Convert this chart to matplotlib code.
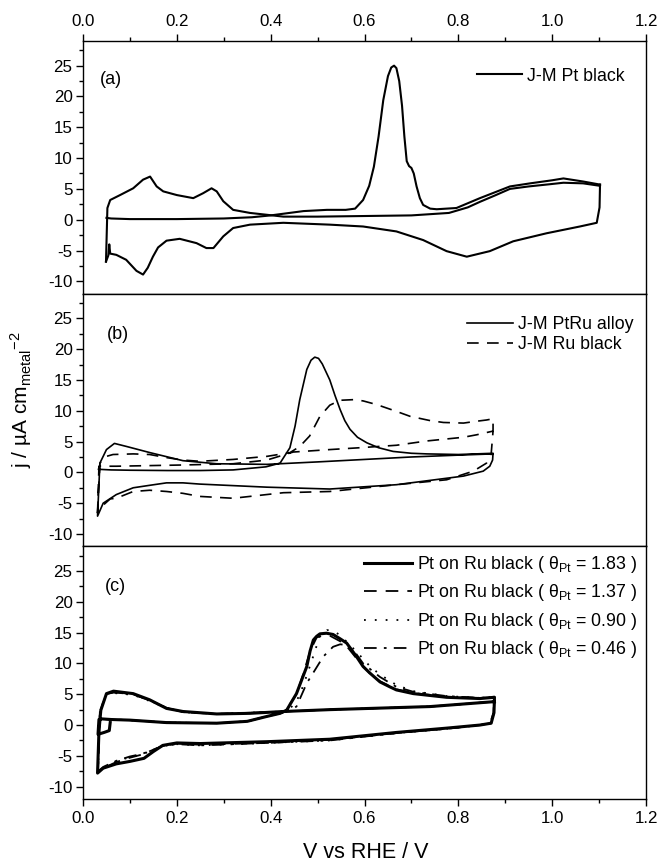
import matplotlib
matplotlib.use("Agg")
import matplotlib.pyplot as plt
from matplotlib.ticker import MultipleLocator

plt.rcParams['font.family'] = ['Liberation Sans', 'DejaVu Sans']
plt.rcParams['mathtext.default'] = 'regular'
plt.rcParams['axes.unicode_minus'] = False

# ---------------- Panel (a): J-M Pt black ----------------
a_co_x = [0.050, 0.060, 0.100, 0.200, 0.300, 0.360, 0.400, 0.430, 0.470, 0.520, 0.560, 0.580,
          0.597, 0.610, 0.620, 0.630, 0.640, 0.650, 0.657, 0.663, 0.668, 0.674, 0.680, 0.685,
          0.690, 0.695, 0.700, 0.705, 0.711, 0.718, 0.725, 0.740, 0.754, 0.796, 0.846, 0.910,
          0.953, 1.000, 1.024, 1.066, 1.102]
a_co_y = [0.3, 0.2, 0.1, 0.1, 0.2, 0.4, 0.7, 1.0, 1.4, 1.6, 1.6, 1.8,
          3.2, 5.5, 8.6, 13.5, 19.4, 23.3, 24.7, 25.0, 24.6, 22.5, 18.5, 13.5,
          9.5, 8.7, 8.4, 7.5, 5.4, 3.5, 2.4, 1.8, 1.7, 1.9, 3.5, 5.4,
          5.9, 6.4, 6.7, 6.2, 5.7]
a_cat_x = [1.102, 1.101, 1.095, 1.059, 0.988, 0.917, 0.867, 0.818, 0.775, 0.725, 0.668, 0.597,
           0.526, 0.427, 0.356, 0.320, 0.299, 0.278, 0.263, 0.242, 0.206, 0.178, 0.160, 0.149,
           0.138, 0.128, 0.114, 0.092, 0.071, 0.058, 0.056, 0.054, 0.049]
a_cat_y = [5.7, 2.0, -0.5, -1.1, -2.2, -3.5, -5.1, -6.0, -5.1, -3.3, -1.9, -1.1,
           -0.8, -0.5, -0.8, -1.35, -2.7, -4.6, -4.6, -3.8, -3.1, -3.4, -4.5, -6.0,
           -7.8, -8.9, -8.3, -6.5, -5.7, -5.5, -4.0, -5.8, -6.8]
a_h_x = [0.049, 0.052, 0.058, 0.079, 0.107, 0.128, 0.143, 0.157, 0.171, 0.200, 0.235, 0.256,
         0.274, 0.285, 0.299, 0.320, 0.356, 0.392, 0.427, 0.500, 0.600, 0.700, 0.780, 0.820,
         0.846, 0.880, 0.910, 0.950, 1.000, 1.024, 1.066, 1.102]
a_h_y = [-6.8, 1.9, 3.2, 4.0, 5.1, 6.5, 7.0, 5.4, 4.6, 4.0, 3.5, 4.3,
         5.1, 4.6, 3.0, 1.6, 1.1, 0.8, 0.5, 0.5, 0.6, 0.7, 1.1, 2.0,
         2.9, 4.0, 5.0, 5.4, 5.8, 6.0, 5.9, 5.5]

# ---------------- Panel (b): PtRu alloy (solid), Ru black (dashed) ----------------
b_alloy_x = [0.033, 0.060, 0.100, 0.180, 0.250, 0.320, 0.390, 0.420, 0.441, 0.452, 0.462, 0.477,
             0.486, 0.494, 0.502, 0.510, 0.518, 0.526, 0.537, 0.548, 0.558, 0.569, 0.585, 0.605,
             0.630, 0.661, 0.700, 0.733, 0.800, 0.874, 0.873, 0.867, 0.853, 0.811, 0.668, 0.526,
             0.392, 0.249, 0.213, 0.178, 0.142, 0.107, 0.071, 0.043, 0.031, 0.036, 0.050, 0.067,
             0.093, 0.143, 0.213, 0.285, 0.392, 0.500, 0.600, 0.700, 0.800, 0.874]
b_alloy_y = [0.5, 0.4, 0.35, 0.3, 0.3, 0.4, 0.9, 1.5, 4.0, 7.5, 11.8, 16.7,
             18.2, 18.7, 18.5, 17.6, 16.3, 15.0, 12.5, 10.2, 8.4, 7.0, 5.7, 4.8,
             4.0, 3.4, 3.1, 3.0, 2.9, 3.1, 2.0, 1.0, 0.2, -0.6, -2.0, -2.7,
             -2.4, -1.9, -1.7, -1.7, -2.1, -2.5, -3.6, -5.0, -7.1, 1.5, 3.7, 4.7,
             4.2, 3.2, 1.9, 1.4, 1.3, 1.7, 2.1, 2.5, 2.8, 3.0]
b_ru_x = [0.031, 0.036, 0.050, 0.064, 0.107, 0.142, 0.178, 0.213, 0.249, 0.320, 0.392, 0.441,
          0.462, 0.483, 0.505, 0.526, 0.548, 0.576, 0.597, 0.626, 0.668, 0.697, 0.740, 0.768,
          0.811, 0.839, 0.860, 0.874, 0.874, 0.870, 0.860, 0.832, 0.775, 0.668, 0.526, 0.427,
          0.320, 0.249, 0.213, 0.178, 0.142, 0.107, 0.071, 0.058, 0.036, 0.031, 0.034, 0.071,
          0.142, 0.213, 0.320, 0.392, 0.448, 0.526, 0.590, 0.668, 0.733, 0.811, 0.839, 0.874]
b_ru_y = [-6.6, 1.5, 2.6, 2.9, 3.0, 2.9, 2.4, 2.0, 1.8, 2.1, 2.6, 3.2,
          4.2, 5.9, 9.1, 10.9, 11.7, 11.8, 11.6, 11.0, 9.9, 9.1, 8.4, 8.1,
          8.0, 8.3, 8.5, 8.7, 6.7, 3.0, 1.5, 0.2, -1.2, -2.0, -3.1, -3.3,
          -4.2, -3.9, -3.4, -3.1, -2.9, -3.1, -4.2, -4.3, -5.8, -6.6, 1.0, 1.0,
          1.1, 1.2, 1.4, 2.0, 3.3, 3.7, 4.0, 4.4, 5.1, 5.7, 6.1, 6.7]

# ---------------- Panel (c): Pt on Ru black, four coverages ----------------
c_183_x = [0.058, 0.056, 0.045, 0.032, 0.034, 0.040, 0.060, 0.100, 0.178, 0.285, 0.350, 0.392,
           0.420, 0.434, 0.455, 0.466, 0.477, 0.484, 0.491, 0.498, 0.505, 0.519, 0.533, 0.548,
           0.562, 0.583, 0.597, 0.612, 0.633, 0.654, 0.668, 0.704, 0.775, 0.846, 0.877,
           0.876, 0.870, 0.846, 0.775, 0.668, 0.526, 0.392, 0.250, 0.200, 0.170, 0.150, 0.130,
           0.100, 0.071, 0.043, 0.031,
           0.034, 0.038, 0.050, 0.065, 0.107, 0.142, 0.178, 0.213, 0.285, 0.356, 0.427, 0.526,
           0.740, 0.877]
c_183_y = [0.4, -0.9, -1.2, -1.5, 0.9, 1.0, 0.9, 0.8, 0.4, 0.3, 0.6, 1.4,
           1.9, 2.4, 5.1, 7.3, 9.5, 12.0, 13.8, 14.4, 14.8, 14.9, 14.7, 14.0,
           13.3, 11.1, 9.5, 8.4, 7.0, 6.2, 5.7, 5.1, 4.5, 4.3, 4.5,
           2.0, 0.3, 0.0, -0.5, -1.2, -2.3, -2.7, -3.0, -2.9, -3.3, -4.3, -5.4,
           -5.9, -6.3, -7.0, -7.8,
           -1.0, 2.4, 5.1, 5.5, 5.1, 4.1, 2.7, 2.2, 1.8, 1.9, 2.2, 2.5,
           3.0, 3.8]
c_137_x = [0.034, 0.040, 0.060, 0.100, 0.178, 0.285, 0.350, 0.392, 0.420, 0.440, 0.455, 0.470,
           0.484, 0.498, 0.512, 0.526, 0.548, 0.562, 0.583, 0.612, 0.633, 0.668, 0.704, 0.775,
           0.846, 0.876, 0.875, 0.868, 0.846, 0.775, 0.668, 0.526, 0.392, 0.250, 0.200, 0.170,
           0.150, 0.125, 0.100, 0.071, 0.043, 0.032, 0.036, 0.050, 0.065, 0.107, 0.142, 0.178,
           0.213, 0.285, 0.427, 0.526, 0.740, 0.876]
c_137_y = [0.9, 1.0, 0.9, 0.8, 0.4, 0.3, 0.6, 1.4, 1.9, 3.3, 5.0, 8.4,
           12.0, 14.2, 14.6, 14.5, 13.6, 12.8, 10.8, 8.3, 7.1, 5.8, 5.2, 4.6,
           4.4, 4.5, 2.0, 0.4, 0.0, -0.6, -1.3, -2.4, -2.9, -3.2, -3.0, -3.4,
           -4.0, -4.8, -5.3, -6.0, -7.0, -7.6, 2.2, 5.0, 5.3, 5.0, 4.0, 2.8,
           2.1, 1.8, 2.2, 2.5, 3.0, 3.8]
c_090_x = [0.034, 0.040, 0.060, 0.100, 0.178, 0.285, 0.350, 0.392, 0.420, 0.440, 0.455, 0.470,
           0.490, 0.505, 0.520, 0.530, 0.548, 0.583, 0.612, 0.633, 0.668, 0.704, 0.775, 0.846,
           0.877, 0.876, 0.870, 0.846, 0.775, 0.668, 0.526, 0.392, 0.250, 0.200, 0.170, 0.150,
           0.125, 0.100, 0.071, 0.043, 0.032, 0.036, 0.050, 0.065, 0.107, 0.142, 0.178, 0.213,
           0.285, 0.427, 0.526, 0.740, 0.877]
c_090_y = [0.9, 1.0, 0.9, 0.8, 0.4, 0.3, 0.6, 1.4, 1.9, 2.6, 3.8, 6.5,
           11.0, 14.5, 15.4, 15.4, 14.6, 11.9, 9.5, 8.2, 6.5, 5.5, 4.7, 4.4,
           4.6, 2.0, 0.3, 0.0, -0.6, -1.3, -2.5, -2.9, -3.3, -3.1, -3.4, -4.0,
           -4.8, -5.2, -5.9, -6.9, -7.6, 2.2, 4.9, 5.2, 4.9, 3.9, 2.8, 2.1,
           1.8, 2.2, 2.5, 3.0, 3.8]
c_046_x = [0.034, 0.040, 0.060, 0.100, 0.178, 0.285, 0.350, 0.392, 0.420, 0.440, 0.455, 0.477,
           0.495, 0.512, 0.533, 0.548, 0.562, 0.580, 0.597, 0.633, 0.668, 0.704, 0.775, 0.846,
           0.877, 0.876, 0.870, 0.846, 0.775, 0.668, 0.526, 0.392, 0.250, 0.200, 0.170, 0.150,
           0.125, 0.100, 0.071, 0.043, 0.032, 0.036, 0.050, 0.065, 0.107, 0.142, 0.178, 0.213,
           0.285, 0.427, 0.526, 0.740, 0.877]
c_046_y = [0.9, 1.0, 0.9, 0.8, 0.4, 0.3, 0.6, 1.4, 1.9, 2.4, 3.0, 6.8,
           9.0, 11.1, 12.7, 13.1, 13.0, 11.8, 10.0, 7.8, 6.2, 5.4, 4.7, 4.4,
           4.6, 2.0, 0.3, 0.0, -0.6, -1.3, -2.5, -2.9, -3.3, -3.1, -3.4, -4.0,
           -4.7, -5.1, -5.8, -6.8, -7.5, 2.3, 5.0, 5.3, 5.0, 4.0, 2.8, 2.1,
           1.8, 2.2, 2.5, 3.0, 3.8]

legend_a = ["J-M Pt black"]
legend_b = ["J-M PtRu alloy", "J-M Ru black"]
coverages = ["1.83", "1.37", "0.90", "0.46"]
panel_tags = ["(a)", "(b)", "(c)"]
x_ticks = [0.0, 0.2, 0.4, 0.6, 0.8, 1.0, 1.2]
y_ticks = [-10, -5, 0, 5, 10, 15, 20, 25]

W, H = 659, 864
fig, axes = plt.subplots(3, 1, figsize=(W / 100, H / 100), dpi=100, sharex=True)
fig.subplots_adjust(left=83 / W, right=646 / W, top=1 - 41 / H, bottom=1 - 799 / H, hspace=0)

FS = 12.2
LFS = 12.8
for ax in axes:
    ax.set_xlim(0.0, 1.2)
    ax.set_ylim(-12, 29)
    ax.set_yticks(y_ticks)
    ax.yaxis.set_minor_locator(MultipleLocator(2.5))
    ax.xaxis.set_minor_locator(MultipleLocator(0.1))
    ax.set_xticks(x_ticks)
    ax.tick_params(axis='y', which='both', direction='out', left=True, right=False,
                   labelsize=FS, pad=2.5)
    ax.tick_params(axis='y', which='major', length=5, width=1.0)
    ax.tick_params(axis='y', which='minor', length=3, width=1.0)
    for s in ax.spines.values():
        s.set_linewidth(1.0)

axes[0].tick_params(axis='x', which='both', direction='out', top=True, labeltop=True,
                    bottom=False, labelbottom=False, labelsize=FS)
axes[0].tick_params(axis='x', which='major', length=5, width=1.0)
axes[0].tick_params(axis='x', which='minor', length=3, width=1.0)
axes[1].tick_params(axis='x', which='both', top=False, bottom=False, labelbottom=False, labeltop=False)
axes[2].tick_params(axis='x', which='both', direction='out', top=False, bottom=True,
                    labelbottom=True, labelsize=FS)
axes[2].tick_params(axis='x', which='major', length=5, width=1.0)
axes[2].tick_params(axis='x', which='minor', length=3, width=1.0)
for ax in axes:
    ax.xaxis.set_major_formatter(matplotlib.ticker.FormatStrFormatter('%.1f'))

# Panel a
ax = axes[0]
la, = ax.plot(a_co_x, a_co_y, color='black', lw=1.5, label=legend_a[0])
ax.plot(a_cat_x, a_cat_y, color='black', lw=1.5)
ax.plot(a_h_x, a_h_y, color='black', lw=1.5)
ax.legend(handles=[la], loc='upper right', bbox_to_anchor=(0.962, 0.895), frameon=False,
          fontsize=LFS, handlelength=2.5, handletextpad=0.3, borderpad=0, borderaxespad=0)

# Panel b
ax = axes[1]
lb1, = ax.plot(b_alloy_x, b_alloy_y, color='black', lw=1.2, label=legend_b[0])
lb2, = ax.plot(b_ru_x, b_ru_y, color='black', lw=1.2, linestyle=(0, (7, 5)), label=legend_b[1])
ax.legend(handles=[lb1, lb2], loc='upper right', bbox_to_anchor=(0.978, 0.912), frameon=False,
          fontsize=LFS, handlelength=2.6, handletextpad=0.3, borderpad=0, borderaxespad=0,
          labelspacing=0.2)

# Panel c
ax = axes[2]
styles = [dict(lw=2.2, linestyle='-'),
          dict(lw=1.3, linestyle=(0, (7, 5))),
          dict(lw=1.3, linestyle=(0, (1, 5))),
          dict(lw=1.3, linestyle=(0, (7, 4, 1.5, 4)))]
series = [(c_183_x, c_183_y), (c_137_x, c_137_y), (c_090_x, c_090_y), (c_046_x, c_046_y)]
handles = []
for (xs, ys), st, cov in zip(series, styles, coverages):
    h, = ax.plot(xs, ys, color='black', label="Pt on Ru black ( θ$_{Pt}$ = %s )" % cov, **st)
    handles.append(h)
ax.legend(handles=handles, loc='upper right', bbox_to_anchor=(0.985, 0.97), frameon=False,
          fontsize=LFS, handlelength=2.7, handletextpad=0.3, borderpad=0, borderaxespad=0,
          labelspacing=0.42)

for ax, tag, pos in zip(axes, panel_tags, [(0.030, 0.846), (0.043, 0.838), (0.039, 0.842)]):
    ax.text(pos[0], pos[1], tag, transform=ax.transAxes, fontsize=13, va='center', ha='left')

fig.text(21 / W, 1 - 400 / H, "j / µA cm$_{metal}$$^{-2}$", rotation=90, fontsize=15,
         ha='center', va='center')
fig.text(366 / W, 1 - 853 / H, "V vs RHE / V", fontsize=15.5, ha='center', va='center')

fig.savefig("out.png", dpi=100)
